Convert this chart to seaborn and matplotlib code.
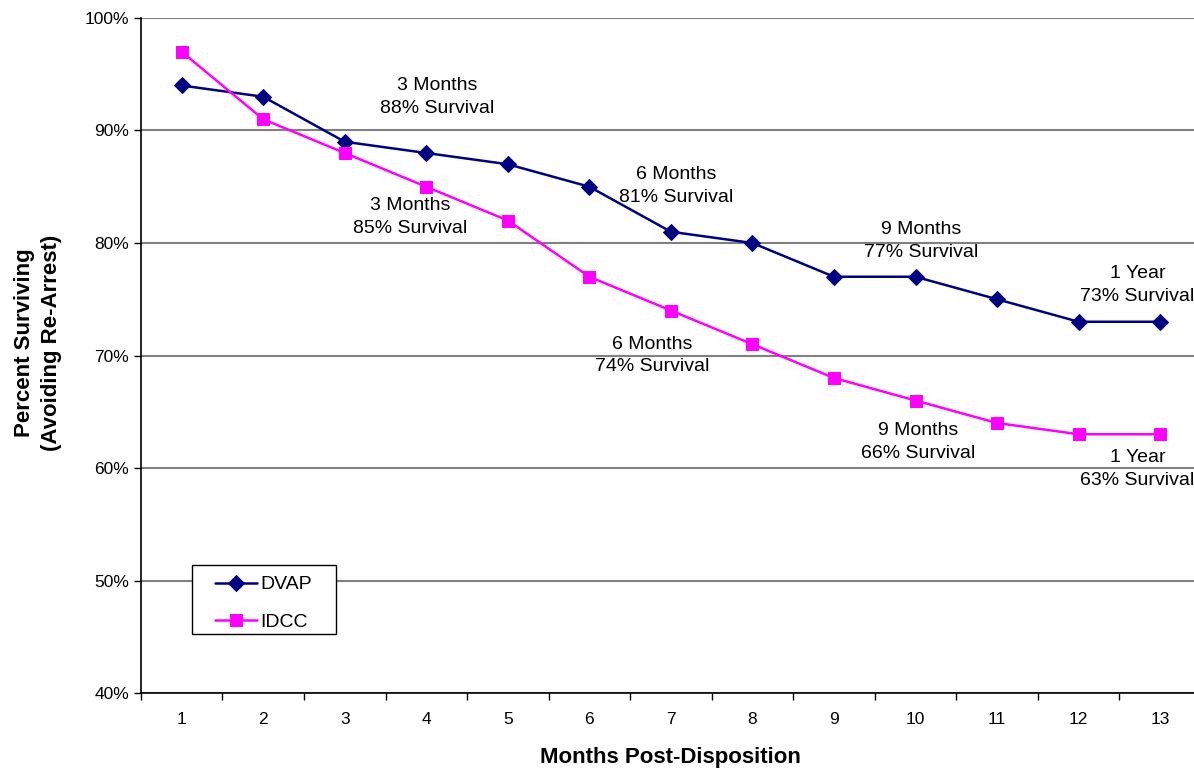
import pandas as pd
import matplotlib.pyplot as plt
import matplotlib.ticker as mticker
from matplotlib.patches import Rectangle
import seaborn as sns

# --- Données ---
months = list(range(1, 14))
dvap = [94, 93, 89, 88, 87, 85, 81, 80, 77, 77, 75, 73, 73]
idcc = [97, 91, 88, 85, 82, 77, 74, 71, 68, 66, 64, 63, 63]

# annotations (texte, x, y)
notes_text = ["3 Months\n88% Survival", "3 Months\n85% Survival",
              "6 Months\n81% Survival", "6 Months\n74% Survival",
              "9 Months\n77% Survival", "9 Months\n66% Survival",
              "1 Year\n73% Survival", "1 Year\n63% Survival"]
notes_x = [4.13, 3.80, 7.07, 6.77, 10.07, 10.03, 12.72, 12.72]
notes_y = [93.0, 82.3, 85.1, 70.0, 80.2, 62.3, 76.3, 59.9]

df = pd.DataFrame({"month": months + months,
                   "pct": dvap + idcc,
                   "group": ["DVAP"] * 13 + ["IDCC"] * 13})

sns.set_style("white")
plt.rcParams["font.family"] = ["Liberation Sans", "DejaVu Sans"]
plt.rcParams["text.color"] = "black"
plt.rcParams["axes.labelcolor"] = "black"
plt.rcParams["xtick.color"] = "black"
plt.rcParams["ytick.color"] = "black"

fig = plt.figure(figsize=(11.94, 7.69), dpi=100)
ax = fig.add_axes([0.118, 0.0988, 0.8878, 0.8778])

sns.lineplot(data=df[df.group == "DVAP"], x="month", y="pct", color="#000080",
             marker="D", markersize=8, linewidth=1.8, markeredgecolor="#000080",
             label="DVAP", ax=ax)
sns.lineplot(data=df[df.group == "IDCC"], x="month", y="pct", color="#FF00FF",
             marker="s", markersize=9, linewidth=1.8, markeredgecolor="#FF00FF",
             label="IDCC", ax=ax)

for t, x, y in zip(notes_text, notes_x, notes_y):
    ax.text(x, y, t, ha="center", va="center", fontsize=14, linespacing=1.45)

ax.set_xlim(0.5, 13.5)
ax.set_ylim(40, 100)
ax.set_yticks(range(40, 101, 10))
ax.yaxis.set_major_formatter(mticker.FuncFormatter(lambda v, p: f"{int(v)}%"))
ax.set_xticks(months)
ax.set_xticks([m + 0.5 for m in range(0, 13)], minor=True)
ax.tick_params(axis="x", which="major", length=0, pad=14, labelsize=12.5)
ax.tick_params(axis="x", which="minor", length=5, width=1, direction="out", color="black", bottom=True)
ax.tick_params(axis="y", length=5, width=1, direction="out", color="black", left=True, labelsize=12.5)

ax.grid(axis="y", color="#808080", linewidth=1.5)
ax.set_axisbelow(True)
for s in ["top", "right"]:
    ax.spines[s].set_visible(False)
for s in ["left", "bottom"]:
    ax.spines[s].set_color("black")
    ax.spines[s].set_linewidth(1.2)

ax.set_xlabel("Months Post-Disposition", fontsize=16, fontweight="bold", labelpad=14)
ax.set_ylabel("Percent Surviving\n(Avoiding Re-Arrest)", fontsize=16, fontweight="bold",
              linespacing=1.35)
ax.yaxis.set_label_coords(-0.0745, 0.5185)

# --- Légende (cadre dessiné à part pour avoir les marges d'Excel) ---
ax.add_patch(Rectangle((0.0481, 0.0874), 0.136, 0.1022, transform=ax.transAxes,
                       facecolor="white", edgecolor="black", linewidth=1, zorder=4))
leg = ax.legend(loc="lower left", bbox_to_anchor=(0.0698, 0.0926), fontsize=14,
                frameon=False, handlelength=2.15, handletextpad=0.2, borderpad=0,
                labelspacing=1.0, borderaxespad=0)
leg.set_zorder(5)

fig.savefig("out.png", dpi=100)
